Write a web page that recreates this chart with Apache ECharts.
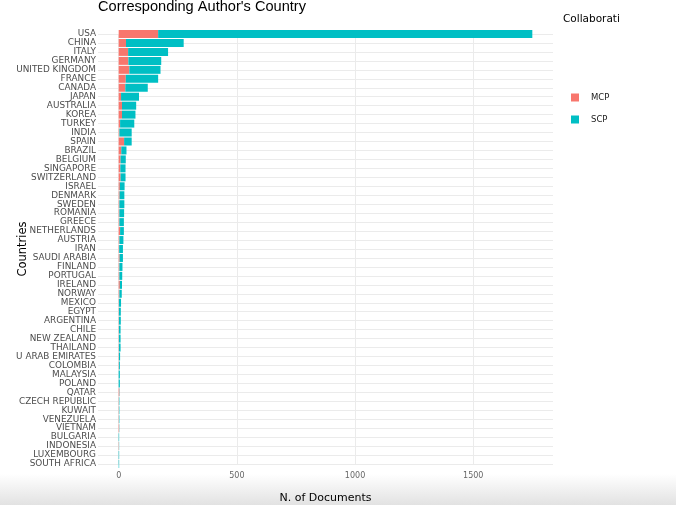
<!DOCTYPE html>
<html>
<head>
<meta charset="utf-8">
<script src="https://cdn.jsdelivr.net/npm/echarts@6/dist/echarts.min.js"></script>
<style>html,body{margin:0;padding:0;background:#fff;}#c{width:676px;height:505px;}</style>
</head>
<body>
<div id="c"></div>
<script>
const countries = ["USA","CHINA","ITALY","GERMANY","UNITED KINGDOM","FRANCE","CANADA","JAPAN","AUSTRALIA","KOREA","TURKEY","INDIA","SPAIN","BRAZIL","BELGIUM","SINGAPORE","SWITZERLAND","ISRAEL","DENMARK","SWEDEN","ROMANIA","GREECE","NETHERLANDS","AUSTRIA","IRAN","SAUDI ARABIA","FINLAND","PORTUGAL","IRELAND","NORWAY","MEXICO","EGYPT","ARGENTINA","CHILE","NEW ZEALAND","THAILAND","U ARAB EMIRATES","COLOMBIA","MALAYSIA","POLAND","QATAR","CZECH REPUBLIC","KUWAIT","VENEZUELA","VIETNAM","BULGARIA","INDONESIA","LUXEMBOURG","SOUTH AFRICA"];
const mcp = [167,31,40,41,45,30,28,10,14,14,6,3,23,11,8,7,8,5,4,3,3,3,6,3,2,4,3,3,5,3,1,1,1,1,1,1,1,1,0,0,3,1,1,1,2,0,1,0,0];
const scp = [1583,244,169,139,132,137,95,76,60,57,60,52,32,22,22,22,21,20,20,21,20,19,16,17,16,14,13,12,9,10,9,8,8,7,7,7,5,4,5,5,1,2,2,2,1,2,1,2,2];
const xTicks = [0,500,1000,1500];

const chart = echarts.init(document.getElementById('c'), null, {renderer:'canvas'});
const baseFont = 'DejaVu Sans';
chart.setOption({
  animation:false,
  backgroundColor:'#ffffff',
  textStyle:{fontFamily:baseFont},
  graphic:[
    {type:'rect', z:-10, shape:{x:0,y:474,width:676,height:31},
     style:{fill:new echarts.graphic.LinearGradient(0,0,0,1,[{offset:0,color:'#ffffff'},{offset:1,color:'#e2e2e2'}])}},
    {type:'text', left:98, top:-1, style:{text:"Corresponding Author's Country", fontFamily:'Liberation Sans', fontSize:14.6, fill:'#000'}},
    {type:'text', left:563, top:14, style:{text:'Collaborati', fontFamily:baseFont, fontSize:10.5, fill:'#000'}}
  ],
  legend:{
    orient:'vertical', left:571, top:93, itemWidth:8, itemHeight:8, itemGap:13, padding:0,
    icon:'rect',
    textStyle:{fontFamily:baseFont, fontSize:8.5, color:'#1a1a1a', padding:[0,0,0,7]},
    data:['MCP','SCP']
  },
  grid:{left:98, right:123, top:34, bottom:41, containLabel:false, outerBoundsMode:'none'},
  xAxis:{
    type:'value', min:-87.5, max:1837.5,
    name:'N. of Documents', nameLocation:'middle', nameGap:29, nameMoveOverlap:false,
    nameTextStyle:{fontFamily:baseFont, fontSize:11, color:'#000'},
    axisLine:{show:false}, axisTick:{show:false, customValues:xTicks},
    axisLabel:{customValues:xTicks, fontSize:8, color:'#666', margin:8, formatter:function(v){return String(v);}},
    splitLine:{show:true, lineStyle:{color:'#ebebeb', width:1}}
  },
  yAxis:{
    type:'category', data:countries, inverse:true, boundaryGap:false,
    name:'Countries', nameLocation:'middle', nameGap:69, nameRotate:90, nameMoveOverlap:false,
    nameTextStyle:{fontFamily:baseFont, fontSize:11.5, color:'#000'},
    axisLine:{show:false}, axisTick:{show:false},
    axisLabel:{fontSize:8.9, color:'#4d4d4d', margin:2, interval:0},
    splitLine:{show:true, interval:0, lineStyle:{color:'#ebebeb', width:1}}
  },
  series:[
    {name:'MCP', type:'bar', stack:'t', data:mcp, barWidth:8, clip:false, itemStyle:{color:'#F8766D'}},
    {name:'SCP', type:'bar', stack:'t', data:scp, barWidth:8, clip:false, itemStyle:{color:'#00BFC4'}}
  ]
});
</script>
</body>
</html>
